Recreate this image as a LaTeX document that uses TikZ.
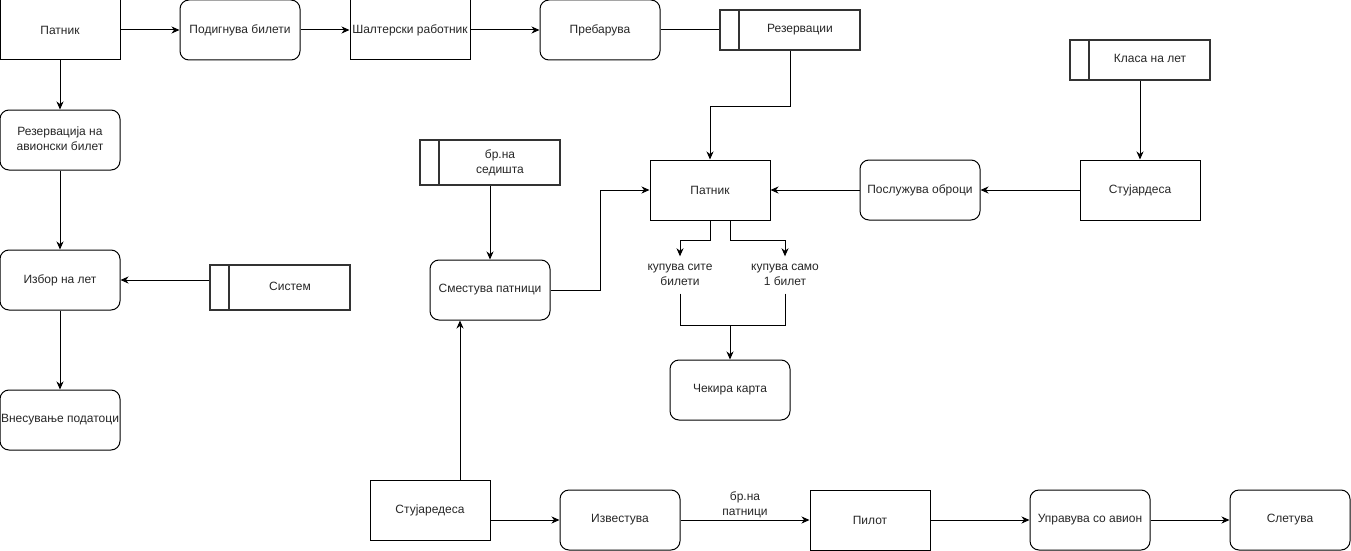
\documentclass[tikz,border=0pt]{standalone}
\usepackage{fontspec}
\setmainfont{Liberation Sans}
\usetikzlibrary{arrows.meta}
% text of a data store sits to the right of its divider
\newcommand\storetext[1]{\hspace*{20pt}\begin{tabular}{@{}c@{}}#1\end{tabular}}
\begin{document}
\begin{tikzpicture}[x=1pt,y=-1pt,
  every node/.style={font=\fontsize{12}{15}\selectfont, text=black!85, inner sep=0pt},
  proc/.style={draw, line width=1pt, minimum width=120pt, minimum height=60pt},
  act/.style={proc, rounded corners=9pt},
  store/.style={draw=black!80, line width=2pt, minimum width=140pt},
  storediv/.style={draw=black!80, line width=2pt},
  note/.style={align=center, minimum height=37pt},
  link/.style={line width=1pt},
  arr/.style={link, -{Stealth[length=8pt,width=7pt,inset=2.5pt]}}
]
\useasboundingbox (0,0) rectangle (1351,551);

% top row
\node[proc] (p1)   at (60,30)   {Патник};
\node[act]  (pod)  at (240,30)  {Подигнува билети};
\node[proc] (shal) at (410,30)  {Шалтерски работник};
\node[act]  (preb) at (600,30)  {Пребарува};
\node[store, minimum height=40pt] (res) at (790,30) {\storetext{Резервации}};

% left column
\node[act] (rez)  at (60,140) {\begin{tabular}{@{}c@{}}Резервација на\\авионски билет\end{tabular}};
\node[act] (izb)  at (60,280) {Избор на лет};
\node[act] (vnes) at (60,420) {Внесување податоци};
\node[store, minimum height=45pt] (sis) at (280,287.5) {\storetext{Систем}};

% middle
\node[store, minimum height=45pt] (sed) at (490,162.5) {\storetext{бр.на\\седишта}};
\node[act]  (smest) at (490,290) {Сместува патници};
\node[proc] (p2)    at (710,190) {Патник};
\node[act]  (posl)  at (920,190) {Послужува оброци};
\node[proc] (stu)   at (1140,190) {Стујардеса};
\node[store, minimum height=40pt] (klasa) at (1140,60) {\storetext{Класа на лет}};
\node[note] (kup1) at (680,275) {купува сите\\билети};
\node[note] (kup2) at (785,275) {купува само\\1 билет};
\node[act]  (chek) at (730,390) {Чекира карта};
\coordinate (join) at (730,325);

% bottom row
\node[proc] (stu2) at (430,510) {Стујаредеса};
\node[act]  (izv)  at (620,520) {Известува};
\node[proc] (pil)  at (870,520) {Пилот};
\node[act]  (upr)  at (1090,520) {Управува со авион};
\node[act]  (slet) at (1290,520) {Слетува};

% store dividers
\foreach \s in {res,sis,sed,klasa}
  \draw[storediv] ([xshift=20pt]\s.north west) -- ([xshift=20pt]\s.south west);

% connectors
\draw[arr] (p1) -- (pod);
\draw[arr] (pod) -- (shal);
\draw[arr] (shal) -- (preb);
\draw[link] (preb) -- (res);
\draw[arr] (res.south) -- ++(0,55) -| (p2.north);
\draw[arr] (klasa) -- (stu);
\draw[arr] (stu) -- (posl);
\draw[arr] (posl) -- (p2);
\draw[arr] (sed) -- (smest);
\draw[arr] (smest.east) -- ++(50,0) |- (p2.west);
\draw[arr] (p1) -- (rez);
\draw[arr] (rez) -- (izb);
\draw[arr] (sis.west |- izb.east) -- (izb.east);
\draw[arr] (izb) -- (vnes);
\draw[arr] (p2.south) -- ++(0,20) -| (kup1.north);
\draw[arr] ([xshift=20pt]p2.south) -- ++(0,20) -| (kup2.north);
\draw[link] (kup1.south) |- (join);
\draw[link] (kup2.south) |- (join);
\draw[arr] (join) -- (chek.north);
\draw[arr] ([xshift=30pt]stu2.north) -- ([xshift=-30pt]smest.south);
\draw[arr] (stu2.east |- izv.west) -- (izv.west);
\draw[arr] (izv) -- node[above=2pt, align=center] {бр.на\\патници} (pil);
\draw[arr] (pil) -- (upr);
\draw[arr] (upr) -- (slet);
\end{tikzpicture}
\end{document}
